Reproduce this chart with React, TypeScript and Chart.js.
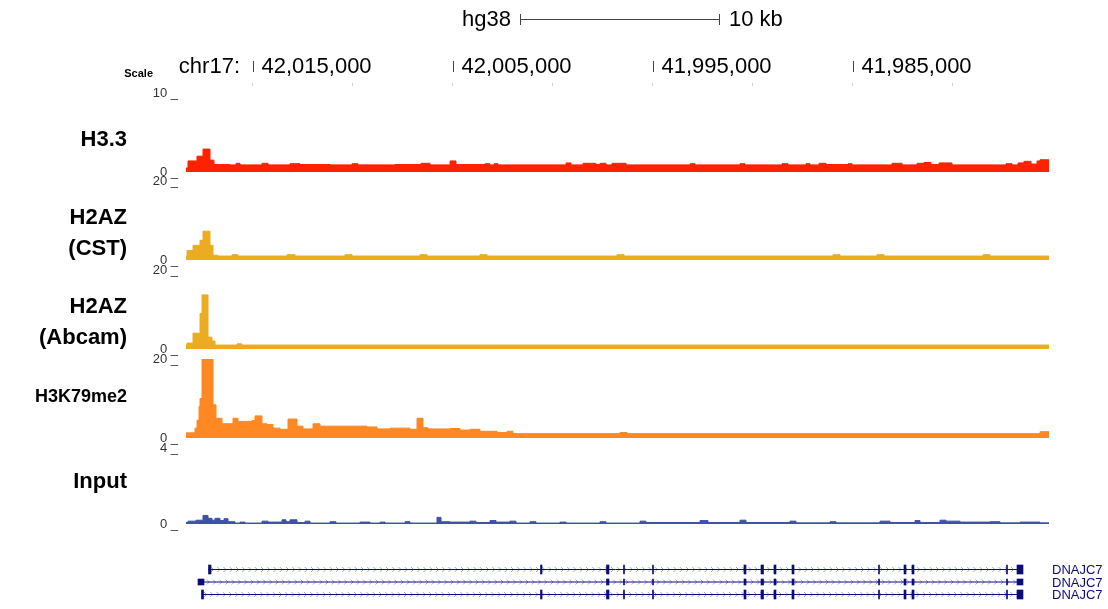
import React, { useEffect, useRef } from 'react';
import { Chart, registerables } from 'chart.js';

Chart.register(...registerables);

// ---------------- data ----------------
// genome view (hg38 chr17, displayed reversed)
const VIEW_START = 42018350;
const VIEW_END = 41975200;
const CHROM = 'chr17:';
const ASSEMBLY = 'hg38';
const SCALE_BAR = [42001650, 41991650];
const SCALE_BAR_LABEL = '10 kb';
const RULER_LABELED = [42015000, 42005000, 41995000, 41985000];
const RULER_MINOR = [42015000, 42010000, 42005000, 42000000, 41995000, 41990000, 41985000, 41980000];

const TRACK_NAMES = [['H3.3'], ['H2AZ', '(CST)'], ['H2AZ', '(Abcam)'], ['H3K79me2'], ['Input']];
const TRACK_MAX = [10, 20, 20, 20, 4];

// step-wise signal: each value holds from its start until the next start
const H33_START = [42018350, 42018250, 42017800, 42017500, 42017150, 42016950, 42016150, 42015850, 42015650, 42014550, 42014250, 42013150, 42012650, 42011150, 42010050, 42009750, 42007900, 42006600, 42006150, 42005150, 42004850, 42003400, 42003150, 42002950, 42002750, 42000650, 41999350, 41999100, 41998500, 41997850, 41997650, 41997350, 41997050, 41996350, 41993150, 41992900, 41990650, 41990400, 41988550, 41988250, 41987350, 41987150, 41986700, 41986350, 41985250, 41985050, 41983050, 41982550, 41981800, 41981450, 41981100, 41980700, 41980050, 41977350, 41977050, 41976750, 41976450, 41976100, 41975800, 41975650];
const H33_VAL = [0.5, 1.4, 2.0, 2.9, 1.5, 0.95, 0.9, 1.1, 0.9, 1.1, 0.9, 1.05, 0.95, 0.9, 1.05, 0.9, 0.95, 1.1, 0.9, 1.4, 0.95, 1.05, 0.9, 1.05, 0.9, 0.9, 1.15, 0.9, 1.1, 0.95, 1.1, 0.9, 1.1, 0.9, 1.05, 0.9, 1.05, 0.9, 1.05, 0.9, 1.05, 0.9, 1.1, 0.95, 1.05, 0.9, 1.1, 0.9, 1.1, 1.2, 0.95, 1.15, 0.9, 1.05, 0.9, 1.15, 1.35, 1.0, 1.4, 1.55];

const CST_START = [42018350, 42018300, 42018000, 42017650, 42017500, 42017150, 42017000, 42016750, 42016050, 42015750, 42013300, 42012900, 42010400, 42010050, 42006650, 42006300, 42003650, 42003300, 41996800, 41996450, 41986000, 41985650, 41983800, 41983450, 41978500, 41978150];
const CST_VAL = [0.8, 2.4, 3.7, 5.0, 7.3, 3.7, 1.2, 1.0, 1.35, 1.0, 1.35, 1.0, 1.35, 1.0, 1.35, 1.0, 1.35, 1.0, 1.35, 1.0, 1.35, 1.0, 1.35, 1.0, 1.35, 1.0];

const ABCAM_START = [42018350, 42018300, 42018000, 42017650, 42017550, 42017250, 42017050, 42016900, 42015800, 42015550];
const ABCAM_VAL = [1.0, 1.5, 4.0, 9.0, 13.7, 3.0, 2.0, 1.0, 1.3, 1.0];

const K79_START = [42018350, 42017900, 42017800, 42017700, 42017650, 42017550, 42017000, 42016850, 42016550, 42016000, 42015750, 42015050, 42014900, 42014550, 42014300, 42014000, 42013650, 42013250, 42012800, 42012500, 42012000, 42011650, 42009300, 42008800, 42008150, 42007150, 42006800, 42006500, 42006250, 42005150, 42004650, 42004150, 42003650, 42002800, 42002300, 42002000, 41996650, 41996300, 41975650];
const K79_VAL = [1.3, 2.5, 4.5, 8, 10, 20, 8.4, 5.0, 3.6, 5.0, 4.2, 4.4, 5.6, 3.6, 3.4, 2.5, 2.2, 4.8, 3.0, 2.3, 3.6, 3.0, 2.8, 2.3, 2.5, 2.2, 5.0, 2.6, 2.3, 2.4, 2.0, 2.2, 1.7, 1.4, 1.7, 1.1, 1.4, 1.1, 1.6];

const INPUT_START = [42018350, 42018250, 42017850, 42017500, 42017250, 42017050, 42016900, 42016650, 42016450, 42016250, 42015900, 42015650, 42015400, 42014550, 42014250, 42013550, 42013350, 42013150, 42012800, 42012400, 42012150, 42011150, 42010850, 42009650, 42009150, 42008650, 42008400, 42007400, 42007150, 42005800, 42005600, 42005150, 42004150, 42003850, 42003150, 42002850, 42002150, 42001850, 42001150, 42000850, 41999650, 41999350, 41997650, 41997350, 41995650, 41995350, 41992650, 41992250, 41990650, 41990350, 41988150, 41987850, 41986150, 41985850, 41983650, 41983150, 41981900, 41981650, 41980650, 41980350, 41979650, 41978150, 41977650, 41976650, 41975650];
const INPUT_VAL = [0.08, 0.15, 0.2, 0.45, 0.3, 0.2, 0.3, 0.18, 0.28, 0.12, 0.05, 0.1, 0.05, 0.15, 0.1, 0.22, 0.12, 0.22, 0.08, 0.15, 0.05, 0.12, 0.05, 0.1, 0.05, 0.1, 0.05, 0.12, 0.05, 0.35, 0.12, 0.1, 0.15, 0.08, 0.18, 0.1, 0.15, 0.05, 0.12, 0.05, 0.1, 0.05, 0.12, 0.05, 0.15, 0.08, 0.18, 0.08, 0.2, 0.08, 0.15, 0.06, 0.12, 0.06, 0.15, 0.08, 0.18, 0.08, 0.2, 0.15, 0.1, 0.12, 0.06, 0.1, 0.06];

// gene model: DNAJC7, three transcripts
const GENE_NAME = 'DNAJC7';
const TX_SPAN = [[42017225, 41976500], [42017750, 41976500], [42017575, 41976500]];
const SHARED_EXONS = [[41997325, 41997200], [41996475, 41996425], [41995025, 41994975], [41990450, 41990350], [41989600, 41989475], [41988950, 41988850], [41988050, 41987950], [41983725, 41983675], [41982450, 41982350], [41982050, 41981950], [41977325, 41977275], [41976800, 41976500]];
const TX1_EXTRA = [[42017225, 42017100], [42000625, 42000550]];
const TX2_EXTRA = [[42017750, 42017450]];
const TX3_EXTRA = [[42017575, 42017475], [42000625, 42000550]];

// ---------------- styling / layout ----------------
const W = 1108;
const H = 609;
const FONT = '"Liberation Sans", Arial, Helvetica, sans-serif';
const COLORS = ['rgb(255,34,0)', 'rgb(236,172,34)', 'rgb(236,172,34)', 'rgb(255,136,34)', 'rgb(62,82,168)'];
const NAVY = 'rgb(12,12,120)';
const TOP_PAD = 93;
const BOX_H = [88, 89, 89, 89, 97, 64];
const DATA_H = [79, 79, 79, 79, 76];
const AXIS_W = 186;
const RIGHT_PAD = 59;
const LABEL_DY = [[47], [37, 68], [37, 68], [38], [34]];
const LABEL_SIZE = 22;
const LABEL_MAX_W = 96;
const GENE_ROW_PX = 12.5;
const GENE_FIRST_ROW_DY = 24.5;

function stepPoints(starts: number[], vals: number[]) {
  const pts = starts.map((s, i) => ({ x: s, y: vals[i] }));
  pts.push({ x: VIEW_END, y: vals[vals.length - 1] });
  return pts;
}

const SERIES = [
  stepPoints(H33_START, H33_VAL),
  stepPoints(CST_START, CST_VAL),
  stepPoints(ABCAM_START, ABCAM_VAL),
  stepPoints(K79_START, K79_VAL),
  stepPoints(INPUT_START, INPUT_VAL),
];

const ucscPlugin = {
  id: 'ucsc',
  beforeDatasetsDraw(chart: any) {
    const { ctx, scales } = chart;
    const x = scales.x;
    const yg = scales.yg;
    ctx.save();
    ctx.strokeStyle = 'rgba(50,50,170,0.45)';
    ctx.lineWidth = 1;
    TX_SPAN.forEach((span, i) => {
      const y = yg.getPixelForValue(i + 1);
      const x0 = x.getPixelForValue(span[0]);
      const x1 = x.getPixelForValue(span[1]);
      ctx.beginPath();
      for (let px = x0 + 4; px < x1 - 3; px += 6.25) {
        ctx.moveTo(px - 1.5, y - 2.5);
        ctx.lineTo(px + 1, y);
        ctx.lineTo(px - 1.5, y + 2.5);
      }
      ctx.stroke();
    });
    ctx.restore();
  },
  afterDraw(chart: any) {
    const { ctx, scales, chartArea } = chart;
    const x = scales.x;
    ctx.save();
    ctx.fillStyle = '#000';
    ctx.textBaseline = 'middle';
    // scale bar
    const xa = x.getPixelForValue(SCALE_BAR[0]);
    const xb = x.getPixelForValue(SCALE_BAR[1]);
    ctx.font = `22px ${FONT}`;
    ctx.textAlign = 'right';
    ctx.fillText(ASSEMBLY, xa - 9, 20);
    ctx.textAlign = 'left';
    ctx.fillText(SCALE_BAR_LABEL, xb + 9, 20);
    ctx.strokeStyle = '#444';
    ctx.lineWidth = 1;
    ctx.beginPath();
    ctx.moveTo(xa, 19.5); ctx.lineTo(xb, 19.5);
    ctx.moveTo(Math.round(xa) + 0.5, 14); ctx.lineTo(Math.round(xa) + 0.5, 25);
    ctx.moveTo(Math.round(xb) - 0.5, 14); ctx.lineTo(Math.round(xb) - 0.5, 25);
    ctx.stroke();
    // ruler
    ctx.font = `bold 11px ${FONT}`;
    ctx.textAlign = 'right';
    ctx.fillText('Scale', 153, 74);
    ctx.font = `22px ${FONT}`;
    ctx.fillText(CHROM, 240, 67);
    ctx.textAlign = 'left';
    RULER_LABELED.forEach((p) => {
      const px = Math.round(x.getPixelForValue(p)) + 0.5;
      ctx.beginPath();
      ctx.moveTo(px, 61); ctx.lineTo(px, 72);
      ctx.stroke();
      ctx.fillText(p.toLocaleString('en-US'), px + 8, 67);
    });
    ctx.strokeStyle = '#d0d0d0';
    RULER_MINOR.forEach((p) => {
      const px = Math.round(x.getPixelForValue(p)) - 0.5;
      ctx.beginPath();
      ctx.moveTo(px, 83); ctx.lineTo(px, 86);
      ctx.stroke();
    });
    // track labels (shrunk to fit the label column, as the browser does)
    ctx.textAlign = 'right';
    TRACK_NAMES.forEach((lines, i) => {
      const s = scales['y' + i];
      lines.forEach((t, j) => {
        ctx.font = `bold ${LABEL_SIZE}px ${FONT}`;
        const w = ctx.measureText(t).width;
        const size = w > LABEL_MAX_W ? Math.floor((LABEL_SIZE * (LABEL_MAX_W - 2)) / w) : LABEL_SIZE;
        ctx.font = `bold ${size}px ${FONT}`;
        ctx.fillText(t, 127, s.top + LABEL_DY[i][j]);
      });
    });
    // gene names
    ctx.font = `13px ${FONT}`;
    ctx.fillStyle = NAVY;
    ctx.textAlign = 'left';
    TX_SPAN.forEach((_, i) => {
      ctx.fillText(GENE_NAME, chartArea.right + 3, scales.yg.getPixelForValue(i + 1) + 1);
    });
    ctx.restore();
  },
};

export default function App() {
  const ref = useRef<HTMLCanvasElement>(null);
  useEffect(() => {
    const scales: any = {
      x: { type: 'linear', reverse: true, min: VIEW_END, max: VIEW_START, display: false },
    };
    TRACK_MAX.forEach((max, i) => {
      scales['y' + i] = {
        type: 'linear',
        position: 'left',
        stack: 'tracks',
        stackWeight: BOX_H[i],
        weight: 10 - i,
        min: (-max * (BOX_H[i] - DATA_H[i])) / DATA_H[i],
        max,
        grid: { display: false, drawTicks: false },
        border: { display: false },
        ticks: {
          padding: 8,
          color: '#333',
          font: { family: FONT, size: 13 },
          callback: (v: number) => `${v} _`,
        },
        afterBuildTicks: (s: any) => { s.ticks = [{ value: 0 }, { value: max }]; },
        afterFit: (s: any) => { s.width = AXIS_W; s.paddingTop = 0; s.paddingBottom = 0; },
      };
    });
    const gMin = 1 - GENE_FIRST_ROW_DY / GENE_ROW_PX;
    scales.yg = {
      type: 'linear',
      position: 'left',
      stack: 'tracks',
      stackWeight: BOX_H[5],
      weight: 1,
      reverse: true,
      min: gMin,
      max: gMin + BOX_H[5] / GENE_ROW_PX,
      grid: { display: false, drawTicks: false },
      border: { display: false },
      ticks: { display: false },
      afterBuildTicks: (s: any) => { s.ticks = []; },
      afterFit: (s: any) => { s.width = AXIS_W; s.paddingTop = 0; s.paddingBottom = 0; },
    };

    const datasets: any[] = SERIES.map((pts, i) => ({
      type: 'line',
      data: pts,
      yAxisID: 'y' + i,
      stepped: true,
      fill: 'origin',
      backgroundColor: COLORS[i],
      borderColor: COLORS[i],
      borderWidth: 1,
      pointRadius: 0,
      order: 3,
    }));
    const txExons = [TX1_EXTRA, TX2_EXTRA, TX3_EXTRA].map((extra) => extra.concat(SHARED_EXONS));
    const thick = [9, 6, 9];
    TX_SPAN.forEach((span, i) => {
      datasets.push({
        type: 'line',
        data: [{ x: span[0], y: i + 1 }, { x: span[1], y: i + 1 }],
        yAxisID: 'yg',
        borderColor: NAVY,
        borderWidth: 1,
        pointRadius: 0,
        fill: false,
        order: 2,
      });
      datasets.push({
        type: 'bar',
        indexAxis: 'y',
        data: txExons[i].map((e) => ({ x: [e[0], e[1]], y: i + 1 })),
        yAxisID: 'yg',
        xAxisID: 'x',
        backgroundColor: NAVY,
        borderWidth: 0,
        barThickness: thick[i],
        grouped: false,
        order: 1,
      });
    });

    const chart = new Chart(ref.current as HTMLCanvasElement, {
      type: 'line',
      data: { datasets },
      options: {
        responsive: false,
        animation: false,
        devicePixelRatio: 1,
        events: [],
        layout: { padding: { top: TOP_PAD, right: RIGHT_PAD, left: 0, bottom: 0 } },
        plugins: { legend: { display: false }, tooltip: { enabled: false } },
        scales,
      } as any,
      plugins: [ucscPlugin],
    });
    return () => chart.destroy();
  }, []);
  return (
    <div style={{ position: 'absolute', left: 0, top: 0, width: W, height: H, background: '#fff' }}>
      <canvas ref={ref} width={W} height={H} style={{ display: 'block', width: W, height: H }} />
    </div>
  );
}
